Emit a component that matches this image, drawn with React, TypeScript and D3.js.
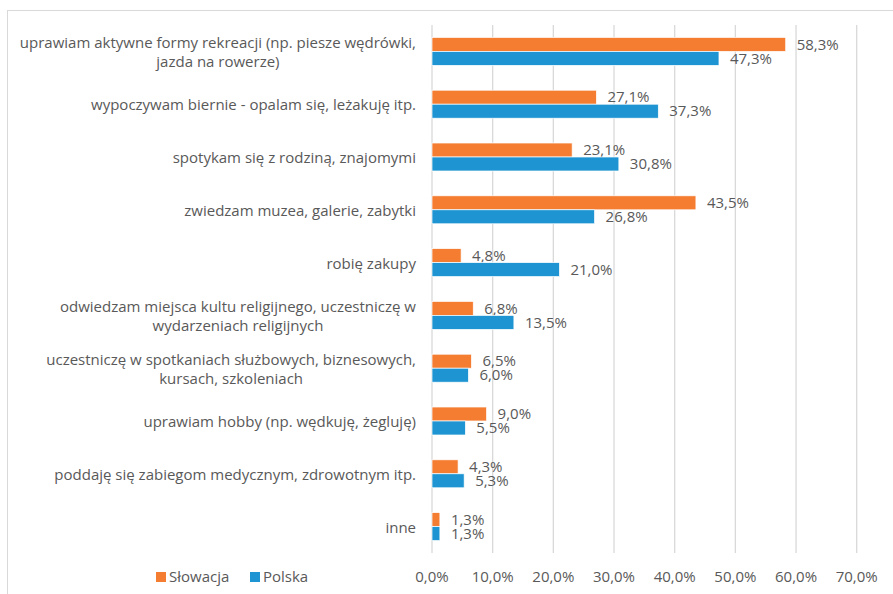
import React, { useEffect, useRef } from "react";
import * as d3 from "d3";

// category labels, already broken into lines as in the original
const categories: string[][] = [
  ["uprawiam aktywne formy rekreacji (np. piesze wędrówki,", "jazda na rowerze)"],
  ["wypoczywam biernie - opalam się, leżakuję itp."],
  ["spotykam się z rodziną, znajomymi"],
  ["zwiedzam muzea, galerie, zabytki"],
  ["robię zakupy"],
  ["odwiedzam miejsca kultu religijnego, uczestniczę w", "wydarzeniach religijnych"],
  ["uczestniczę w spotkaniach służbowych, biznesowych,", "kursach, szkoleniach"],
  ["uprawiam hobby (np. wędkuję, żegluję)"],
  ["poddaję się zabiegom medycznym, zdrowotnym itp."],
  ["inne"],
];

const series = ["Słowacja", "Polska"];
const slowacja = [58.3, 27.1, 23.1, 43.5, 4.8, 6.8, 6.5, 9.0, 4.3, 1.3];
const polska = [47.3, 37.3, 30.8, 26.8, 21.0, 13.5, 6.0, 5.5, 5.3, 1.3];
const ticks = [0, 10, 20, 30, 40, 50, 60, 70];
const colors = ["#F47D32", "#1E95D2"];

const fmt = (v: number) => v.toFixed(1).replace(".", ",") + "%";

export default function App() {
  const svgRef = useRef<SVGSVGElement>(null);

  useEffect(() => {
    const width = 893;
    const height = 594;
    const plot = { left: 432, right: 856.7, top: 25, bottom: 553 };
    const font = "'Open Sans', sans-serif";
    const fontSize = "15px";
    const textColor = "#595959";

    const svg = d3.select(svgRef.current);
    svg.selectAll("*").remove();
    svg.attr("width", width).attr("height", height);

    // outer chart frame (right and bottom edges fall off the page)
    svg.append("rect")
      .attr("x", 7.5)
      .attr("y", 10.5)
      .attr("width", 1000)
      .attr("height", 1000)
      .attr("fill", "white")
      .attr("stroke", "#D9D9D9");

    const x = d3.scaleLinear().domain([0, 70]).range([plot.left, plot.right]);

    const keys = categories.map((_, i) => String(i));
    const y0 = d3.scaleBand()
      .domain(keys)
      .range([plot.top, plot.bottom])
      .paddingInner(0.47)
      .paddingOuter(0.235);
    const y1 = d3.scaleBand().domain(series).range([0, y0.bandwidth()]);

    // gridlines
    svg.append("g")
      .selectAll("line")
      .data(ticks)
      .join("line")
      .attr("x1", d => x(d))
      .attr("x2", d => x(d))
      .attr("y1", plot.top)
      .attr("y2", plot.bottom)
      .attr("stroke", "#D9D9D9")
      .attr("stroke-width", 1.3);

    // tick labels
    svg.append("g")
      .selectAll("text")
      .data(ticks)
      .join("text")
      .attr("x", d => x(d))
      .attr("y", 577)
      .attr("dy", "0.35em")
      .attr("text-anchor", "middle")
      .style("font-family", font)
      .style("font-size", fontSize)
      .attr("fill", textColor)
      .text(d => fmt(d));

    // bars + value labels
    const rows = categories.map((_, i) => [slowacja[i], polska[i]]);
    rows.forEach((vals, i) => {
      const g = svg.append("g").attr("transform", `translate(0,${y0(String(i))})`);
      vals.forEach((v, j) => {
        const yy = y1(series[j])!;
        g.append("rect")
          .attr("x", x(0))
          .attr("y", yy)
          .attr("width", x(v) - x(0))
          .attr("height", y1.bandwidth())
          .attr("fill", colors[j])
          .attr("stroke", "white")
          .attr("stroke-width", 0.7);
        g.append("text")
          .attr("x", x(v) + 11)
          .attr("y", yy + y1.bandwidth() / 2)
          .attr("dy", "0.35em")
          .style("font-family", font)
          .style("font-size", fontSize)
          .attr("fill", textColor)
          .text(fmt(v));
      });
    });

    // category labels: block right-aligned, lines centered
    const labelRight = 416;
    const lineH = 18.5;
    categories.forEach((lines, i) => {
      const cy = y0(String(i))! + y0.bandwidth() / 2 + 1;
      const t = svg.append("text")
        .style("font-family", font)
        .style("font-size", fontSize)
        .attr("fill", textColor)
        .attr("text-anchor", "middle");
      lines.forEach((ln, k) => {
        t.append("tspan")
          .attr("y", cy + (k - (lines.length - 1) / 2) * lineH)
          .attr("dy", "0.35em")
          .text(ln);
      });
      let maxW = 0;
      t.selectAll<SVGTSpanElement, unknown>("tspan").each(function () {
        maxW = Math.max(maxW, this.getComputedTextLength());
      });
      t.selectAll("tspan").attr("x", labelRight - maxW / 2);
    });

    // legend
    const legend = svg.append("g").attr("transform", "translate(156,577)");
    const items = [
      { name: series[0], x: 0 },
      { name: series[1], x: 94 },
    ];
    items.forEach((it, j) => {
      legend.append("rect")
        .attr("x", it.x)
        .attr("y", -5)
        .attr("width", 10)
        .attr("height", 10)
        .attr("fill", colors[j]);
      legend.append("text")
        .attr("x", it.x + 13)
        .attr("y", 0)
        .attr("dy", "0.35em")
        .style("font-family", font)
        .style("font-size", fontSize)
        .attr("fill", textColor)
        .text(it.name);
    });
  }, []);

  return (
    <div style={{ position: "absolute", left: 0, top: 0 }}>
      <svg ref={svgRef}></svg>
    </div>
  );
}
